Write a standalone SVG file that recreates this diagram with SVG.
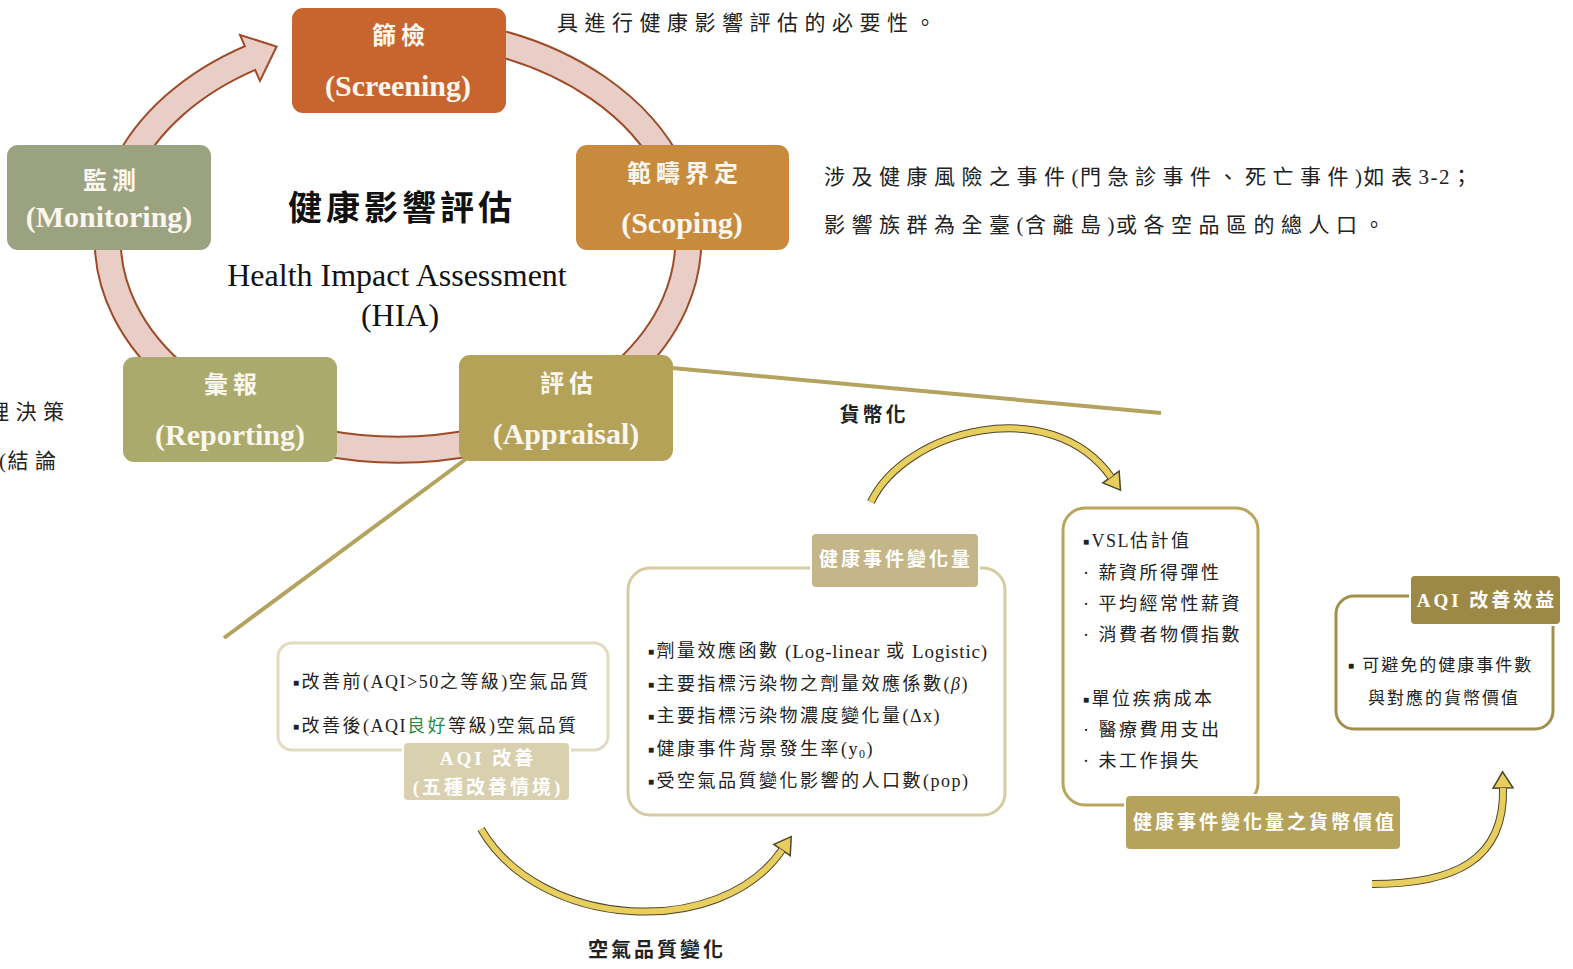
<svg xmlns="http://www.w3.org/2000/svg" width="1573" height="969" viewBox="0 0 1573 969">
<style>
text{font-family:"Liberation Serif","Noto Sans CJK TC",serif;dominant-baseline:central}
.ct{font-size:24px;font-weight:bold;fill:#FBF7EF;letter-spacing:5px;text-anchor:middle}
.ce{font-size:30px;font-weight:bold;fill:#FBF7EF;text-anchor:middle}
.para{font-size:21px;fill:#222;letter-spacing:6.5px}
.item{font-size:18px;fill:#222;letter-spacing:2.5px}
.sm{font-size:17px;letter-spacing:2px}
.lt{letter-spacing:1.5px}
.lt2{letter-spacing:0.8px;font-size:19px}
.bul{font-size:10px}
.lab{font-size:19px;fill:#FFFFFF;letter-spacing:3px;text-anchor:middle;font-weight:bold}
.cap{font-size:20px;font-weight:bold;fill:#222;letter-spacing:3px;text-anchor:middle}
.ringo{fill:none;stroke:#9E4B28;stroke-width:28}
.ringi{fill:none;stroke:#E8CEC7;stroke-width:24}
.yo{fill:none;stroke:#4E4628;stroke-width:8}
.yi{fill:none;stroke:#E8CE5E;stroke-width:6}
.lead{stroke:#B3A35E;stroke-width:4;fill:none}
</style>
<defs>
<marker id="ringHead" markerUnits="userSpaceOnUse" orient="auto" refX="0" refY="0" markerWidth="60" markerHeight="60" viewBox="-2 -30 40 60" overflow="visible">
<path d="M0,-25 L29,0 L0,25 Z" fill="#E8CEC7" stroke="#9E4B28" stroke-width="2" stroke-linejoin="miter"/>
</marker>
<marker id="yHead" markerUnits="userSpaceOnUse" orient="auto" refX="0" refY="0" markerWidth="30" markerHeight="30" viewBox="-2 -12 20 24" overflow="visible">
<path d="M0,-8 L13,0 L0,8 Z" fill="#E8CE5E" stroke="#4E4628" stroke-width="1.2"/>
</marker>
</defs>
<rect x="0" y="0" width="1573" height="969" fill="#FFFFFF"/>

<g id="connectors">
<path class="ringo" d="M124.5 170 A290 210 0 0 1 250 58" marker-end="url(#ringHead)"/>
<path class="ringi" d="M124.5 170 A290 210 0 0 1 252 57.2"/>
<path class="ringo" d="M480 38.6 A290 210 0 0 1 672 171"/>
<path class="ringi" d="M480 38.6 A290 210 0 0 1 672 171"/>
<path class="ringo" d="M688 230 A290 210 0 0 1 626 370"/>
<path class="ringi" d="M688 230 A290 210 0 0 1 626 370"/>
<path class="ringo" d="M480 441 A290 210 0 0 1 320 442"/>
<path class="ringi" d="M480 441 A290 210 0 0 1 320 442"/>
<path class="ringo" d="M182 380 A290 210 0 0 1 108 230"/>
<path class="ringi" d="M182 380 A290 210 0 0 1 108 230"/>
<line class="lead" x1="672" y1="368" x2="1161" y2="413"/>
<line class="lead" x1="466" y1="459" x2="224" y2="638"/>
<path class="yo" d="M871 502 C905 430 1050 392 1111 477" marker-end="url(#yHead)"/>
<path class="yi" d="M871 502 C905 430 1050 392 1111 477"/>
<path class="yo" d="M481 829 C540 930 720 940 782 850" marker-end="url(#yHead)"/>
<path class="yi" d="M481 829 C540 930 720 940 782 850"/>
<path class="yo" d="M1372 884 C1455 884 1505 860 1503 788" marker-end="url(#yHead)"/>
<path class="yi" d="M1372 884 C1455 884 1505 860 1503 788"/>
</g>

<g id="node-screening">
<rect x="292" y="8" width="214" height="105" rx="11" fill="#C8652F"/>
<text class="ct" x="401" y="36">篩檢</text>
<text class="ce" x="398" y="85">(Screening)</text>
</g>
<g id="node-scoping">
<rect x="576" y="145" width="213" height="105" rx="11" fill="#C88B3D"/>
<text class="ct" x="685" y="174">範疇界定</text>
<text class="ce" x="682" y="222">(Scoping)</text>
</g>
<g id="node-monitoring">
<rect x="7" y="145" width="204" height="105" rx="11" fill="#9BA27F"/>
<text class="ct" x="112" y="181">監測</text>
<text class="ce" x="109" y="216">(Monitoring)</text>
</g>
<g id="node-reporting">
<rect x="123" y="357" width="214" height="105" rx="11" fill="#A9AA6B"/>
<text class="ct" x="233" y="385">彙報</text>
<text class="ce" x="230" y="434">(Reporting)</text>
</g>
<g id="node-appraisal">
<rect x="459" y="355" width="214" height="106" rx="11" fill="#B5A259"/>
<text class="ct" x="569" y="384">評估</text>
<text class="ce" x="566" y="433">(Appraisal)</text>
</g>

<g id="hia-title">
<text x="402" y="208" font-size="34" font-weight="bold" fill="#111" text-anchor="middle" letter-spacing="4">健康影響評估</text>
<text x="397" y="275" font-size="32" fill="#111" text-anchor="middle">Health Impact Assessment</text>
<text x="400" y="315" font-size="32" fill="#111" text-anchor="middle">(HIA)</text>
</g>

<g id="context-text">
<text class="para" x="557" y="23">具進行健康影響評估的必要性。</text>
<text class="para" x="824" y="177">涉及健康風險之事件<tspan class="lt">(</tspan>門急診事件、死亡事件<tspan class="lt">)</tspan>如表<tspan class="lt">3-2</tspan>；</text>
<text class="para" x="824" y="225">影響族群為全臺<tspan class="lt">(</tspan>含離島<tspan class="lt">)</tspan>或各空品區的總人口。</text>
<text class="para" x="-12" y="412">理決策</text>
<text class="para" x="-1" y="461"><tspan class="lt">(</tspan>結論</text>
</g>

<g id="node-aqi-improve">
<rect x="278" y="643" width="330" height="107" rx="14" fill="#FFFFFF" stroke="#E3DBC1" stroke-width="3"/>
<text class="item" x="293" y="682"><tspan class="bul">■</tspan>改善前<tspan class="lt">(AQI&gt;50</tspan>之等級<tspan class="lt">)</tspan>空氣品質</text>
<text class="item" x="293" y="726"><tspan class="bul">■</tspan>改善後<tspan class="lt">(AQI</tspan><tspan fill="#2E8B45">良好</tspan>等級<tspan class="lt">)</tspan>空氣品質</text>
<rect x="403" y="742" width="167" height="59" rx="5" fill="#D9D0B0" stroke="#FFFFFF" stroke-width="2"/>
<text class="lab" x="488" y="758" font-size="18">AQI 改善</text>
<text class="lab" x="488" y="787" font-size="18">(五種改善情境)</text>
</g>

<g id="node-health-change">
<rect x="628" y="568" width="377" height="247" rx="22" fill="#FFFFFF" stroke="#D7CBA2" stroke-width="3"/>
<rect x="811" y="533" width="168" height="55" rx="5" fill="#C4B688" stroke="#FFFFFF" stroke-width="2"/>
<text class="lab" x="896" y="559">健康事件變化量</text>
<text class="item" x="648" y="651"><tspan class="bul">■</tspan>劑量效應函數<tspan class="lt2"> (Log-linear </tspan>或<tspan class="lt2"> Logistic)</tspan></text>
<text class="item" x="648" y="684"><tspan class="bul">■</tspan>主要指標污染物之劑量效應係數<tspan class="lt">(<tspan font-style="italic">β</tspan>)</tspan></text>
<text class="item" x="648" y="716"><tspan class="bul">■</tspan>主要指標污染物濃度變化量<tspan class="lt">(Δx)</tspan></text>
<text class="item" x="648" y="749"><tspan class="bul">■</tspan>健康事件背景發生率<tspan class="lt">(y</tspan><tspan class="lt" font-size="12" dy="5">0</tspan><tspan class="lt" dy="-5">)</tspan></text>
<text class="item" x="648" y="781"><tspan class="bul">■</tspan>受空氣品質變化影響的人口數<tspan class="lt">(pop)</tspan></text>
</g>

<g id="node-monetary">
<rect x="1063" y="508" width="195" height="297" rx="22" fill="#FFFFFF" stroke="#BBA55E" stroke-width="3"/>
<text class="item" x="1083" y="541"><tspan class="bul">■</tspan><tspan class="lt">VSL</tspan>估計值</text>
<text class="item" x="1083" y="573">· 薪資所得彈性</text>
<text class="item" x="1083" y="604">· 平均經常性薪資</text>
<text class="item" x="1083" y="635">· 消費者物價指數</text>
<text class="item" x="1083" y="699"><tspan class="bul">■</tspan>單位疾病成本</text>
<text class="item" x="1083" y="730">· 醫療費用支出</text>
<text class="item" x="1083" y="761">· 未工作損失</text>
<rect x="1125" y="795" width="276" height="55" rx="5" fill="#B5A35B" stroke="#FFFFFF" stroke-width="2"/>
<text class="lab" x="1265" y="822">健康事件變化量之貨幣價值</text>
</g>

<g id="node-benefit">
<rect x="1336" y="596" width="217" height="133" rx="18" fill="#FFFFFF" stroke="#A38F4C" stroke-width="3"/>
<rect x="1410" y="575" width="151" height="50" rx="5" fill="#9D8946" stroke="#FFFFFF" stroke-width="2"/>
<text class="lab" x="1487" y="600" letter-spacing="2">AQI 改善效益</text>
<text class="item sm" x="1348" y="665"><tspan class="bul">■</tspan> 可避免的健康事件數</text>
<text class="item sm" x="1368" y="698">與對應的貨幣價值</text>
</g>

<g id="arrow-labels">
<text class="cap" x="874" y="415">貨幣化</text>
<text class="cap" x="657" y="950">空氣品質變化</text>
</g>
</svg>
